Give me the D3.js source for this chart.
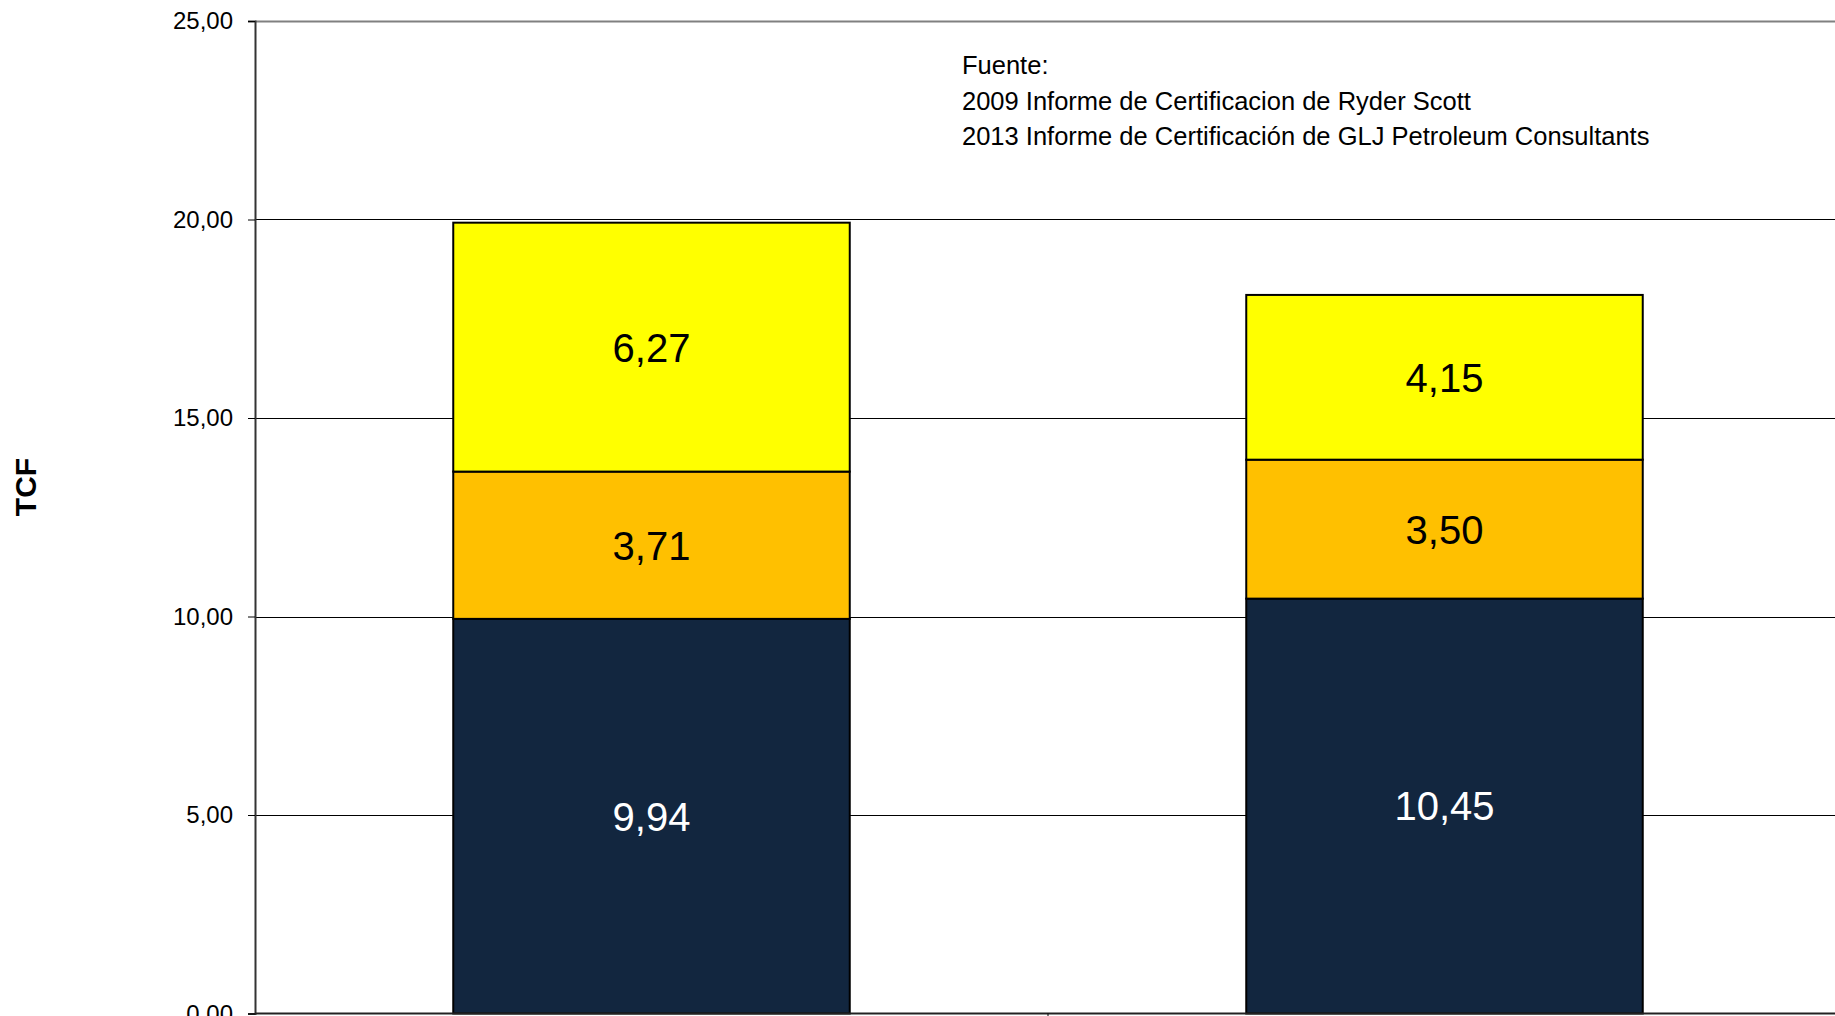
<!DOCTYPE html>
<html>
<head>
<meta charset="utf-8">
<script src="https://cdn.jsdelivr.net/npm/d3@7"></script>
<style>
  html, body { margin: 0; padding: 0; background: #fff; overflow: hidden; }
  svg { display: block; font-family: "Liberation Sans", Arial, sans-serif; }
</style>
</head>
<body>
<div id="chart"></div>
<script>
// data
var categories = ["2009", "2013"];
var seriesNames = ["Probadas", "Probables", "Posibles"];
var probadas = [9.94, 10.45];
var probables = [3.71, 3.50];
var posibles = [6.27, 4.15];
var yTicks = [0, 5, 10, 15, 20, 25];
var fuente = [
  "Fuente:",
  "2009 Informe de Certificacion de Ryder Scott",
  "2013 Informe de Certificación de GLJ Petroleum Consultants"
];

var svgWidth = 1835;
var svgHeight = 1016;
var margin = { top: 21, left: 255 };
var plotBottom = 1013.5;
var bandStep = 793;

var colors = ["#12263f", "#ffc000", "#ffff00"];
var labelColors = ["#ffffff", "#000000", "#000000"];

var svg = d3.select("#chart")
  .append("svg")
  .attr("width", svgWidth)
  .attr("height", svgHeight);

// scales
var x = d3.scaleBand()
  .domain(categories)
  .range([margin.left, margin.left + bandStep * categories.length])
  .paddingInner(0.5)
  .paddingOuter(0.25);

var y = d3.scaleLinear()
  .domain([0, 25])
  .range([plotBottom, margin.top]);

// comma decimal like the original
var locale = d3.formatLocale({ decimal: ",", thousands: ".", grouping: [3], currency: ["", ""] });
var fmt = locale.format(".2f");

// gridlines
svg.append("g")
  .selectAll("line")
  .data(yTicks.filter(d => d > 0))
  .enter()
  .append("line")
  .attr("x1", margin.left)
  .attr("x2", svgWidth)
  .attr("y1", d => Math.round(y(d)) + 0.5)
  .attr("y2", d => Math.round(y(d)) + 0.5)
  .attr("stroke", d => d === 25 ? "#808080" : "#000")
  .attr("stroke-width", d => d === 25 ? 2 : 1);

// stacked data
var rows = categories.map(function(c, i) {
  return { cat: c, Probadas: probadas[i], Probables: probables[i], Posibles: posibles[i] };
});
var stack = d3.stack().keys(seriesNames)(rows);

var layers = svg.append("g")
  .selectAll("g")
  .data(stack)
  .enter()
  .append("g")
  .attr("fill", (d, i) => colors[i]);

layers.selectAll("rect")
  .data(d => d)
  .enter()
  .append("rect")
  .attr("x", d => x(d.data.cat))
  .attr("y", d => y(d[1]))
  .attr("width", x.bandwidth())
  .attr("height", d => y(d[0]) - y(d[1]))
  .attr("stroke", "#000")
  .attr("stroke-width", 2);

// value labels
stack.forEach(function(layer, i) {
  svg.append("g")
    .selectAll("text")
    .data(layer)
    .enter()
    .append("text")
    .attr("x", d => x(d.data.cat) + x.bandwidth() / 2)
    .attr("y", d => y((d[0] + d[1]) / 2))
    .attr("dy", "0.36em")
    .attr("text-anchor", "middle")
    .attr("font-size", "40px")
    .attr("fill", labelColors[i])
    .text(d => fmt(d[1] - d[0]));
});

// y axis
var leftAxis = d3.axisLeft(y)
  .tickValues(yTicks)
  .tickFormat(fmt)
  .tickSize(7)
  .tickPadding(15);

var yAxis = svg.append("g")
  .attr("transform", `translate(${margin.left}, 0)`)
  .call(leftAxis);
yAxis.select(".domain").attr("stroke", "#333").attr("stroke-width", 2);
yAxis.selectAll(".tick line").attr("stroke", "#000");
yAxis.selectAll(".tick text")
  .attr("font-size", "24px")
  .attr("font-family", "Liberation Sans, Arial, sans-serif")
  .attr("fill", "#000");

// x axis line and category separators
svg.append("line")
  .attr("x1", margin.left)
  .attr("x2", svgWidth)
  .attr("y1", plotBottom)
  .attr("y2", plotBottom)
  .attr("stroke", "#222")
  .attr("stroke-width", 2);

svg.append("g")
  .selectAll("line")
  .data(categories.slice(1))
  .enter()
  .append("line")
  .attr("x1", d => x(d) - x.step() * x.paddingInner() / 2)
  .attr("x2", d => x(d) - x.step() * x.paddingInner() / 2)
  .attr("y1", plotBottom)
  .attr("y2", plotBottom + 8)
  .attr("stroke", "#000");

// y axis title
svg.append("text")
  .attr("transform", "translate(36, 487) rotate(-90)")
  .attr("text-anchor", "middle")
  .attr("font-size", "30px")
  .attr("font-weight", "bold")
  .text("TCF");

// source note
svg.append("g")
  .selectAll("text")
  .data(fuente)
  .enter()
  .append("text")
  .attr("x", 962)
  .attr("y", (d, i) => 74 + i * 35.5)
  .attr("font-size", "25.5px")
  .attr("fill", "#000")
  .text(d => d);
</script>
</body>
</html>
